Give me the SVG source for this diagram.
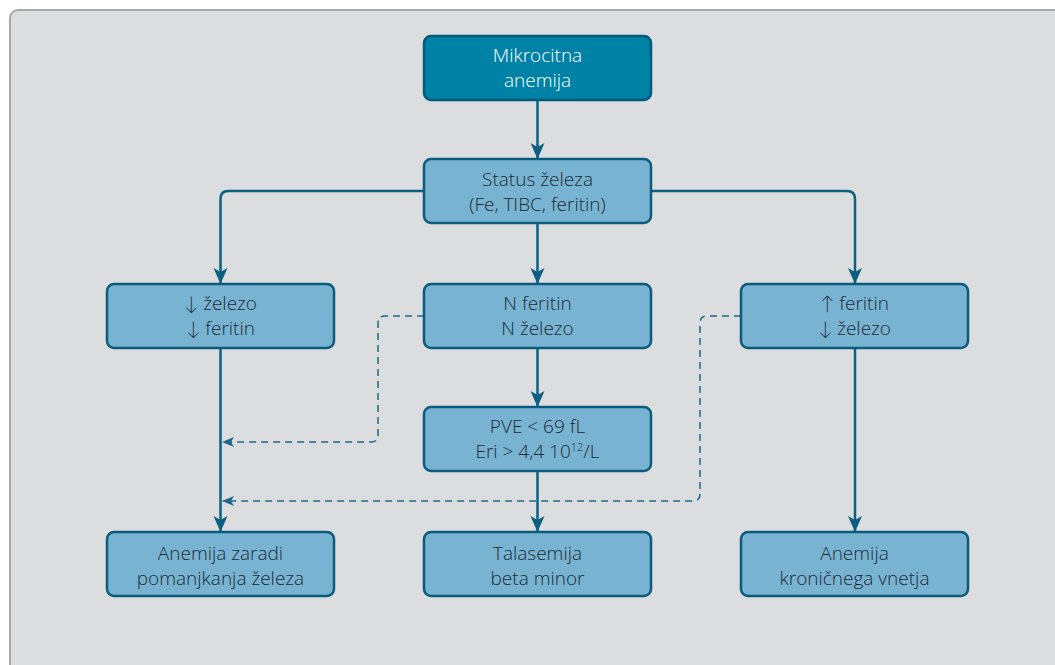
<svg xmlns="http://www.w3.org/2000/svg" width="1055" height="665" viewBox="0 0 1055 665">
<defs>
<style>
.box{fill:#78b4d1;stroke:#0b5b7c;stroke-width:2.5}
.top{fill:#0082a6;stroke:#005a7a;stroke-width:2.5}
.t{font-family:"Open Sans","Noto Sans","Liberation Sans",sans-serif;font-size:19px;font-weight:300;fill:#1c2a36;text-anchor:middle}
.ar{font-family:Lato,"DejaVu Sans",sans-serif;font-weight:300}
.tw{fill:#ffffff}
.c{fill:none;stroke:#0b5f80;stroke-width:2.5}
.d{fill:none;stroke:#1d6888;stroke-width:1.5;stroke-dasharray:7 5}
</style>
<marker id="a" viewBox="0 0 16 16" refX="15" refY="8" markerWidth="16" markerHeight="16" markerUnits="userSpaceOnUse" orient="auto">
<path d="M0,1 L16,8 L0,15 L4,8 Z" fill="#0b5f80"/>
</marker>
<marker id="ad" viewBox="0 0 12 12" refX="11" refY="6" markerWidth="12" markerHeight="12" markerUnits="userSpaceOnUse" orient="auto">
<path d="M0,1 L12,6 L0,11 L3,6 Z" fill="#1d6888"/>
</marker>
</defs>
<rect x="0" y="0" width="1055" height="665" fill="#ffffff"/>
<rect x="10" y="10" width="1070" height="680" rx="8" fill="#dcdddf" stroke="#a8a8a8" stroke-width="2"/>
<g id="connectors">
<path class="c" d="M537.5,100 V158" marker-end="url(#a)"/>
<path class="c" d="M424,191 H228 Q220.5,191 220.5,199 V283" marker-end="url(#a)"/>
<path class="c" d="M651,191 H847 Q855,191 855,199 V283" marker-end="url(#a)"/>
<path class="c" d="M537.5,223 V283" marker-end="url(#a)"/>
<path class="c" d="M537.5,348 V406" marker-end="url(#a)"/>
<path class="c" d="M537.5,471 V531" marker-end="url(#a)"/>
<path class="c" d="M220.5,348 V531" marker-end="url(#a)"/>
<path class="c" d="M855,348 V531" marker-end="url(#a)"/>
<path class="d" d="M424,316 H385 Q378,316 378,323 V435 Q378,442 371,442 H223" marker-end="url(#ad)"/>
<path class="d" d="M741,316 H707 Q700,316 700,323 V494 Q700,501 693,501 H223" marker-end="url(#ad)"/>
</g>
<g id="n1"><rect class="top" x="424" y="36" width="227" height="64" rx="7"/>
<text class="t tw" x="537.5" y="62">Mikrocitna</text><text class="t tw" x="537.5" y="87">anemija</text></g>
<g id="n2"><rect class="box" x="424" y="159" width="227" height="64" rx="7"/>
<text class="t" x="537.5" y="186">Status železa</text><text class="t" x="537.5" y="211">(Fe, TIBC, feritin)</text></g>
<g id="n3"><rect class="box" x="107" y="284" width="227" height="64" rx="7"/>
<text class="t" x="220.5" y="310"><tspan class="ar">↓</tspan> železo</text><text class="t" x="220.5" y="335"><tspan class="ar">↓</tspan> feritin</text></g>
<g id="n4"><rect class="box" x="424" y="284" width="227" height="64" rx="7"/>
<text class="t" x="537.5" y="310">N feritin</text><text class="t" x="537.5" y="335">N železo</text></g>
<g id="n5"><rect class="box" x="741" y="284" width="227" height="64" rx="7"/>
<text class="t" x="854.5" y="310"><tspan class="ar">↑</tspan> feritin</text><text class="t" x="854.5" y="335"><tspan class="ar">↓</tspan> železo</text></g>
<g id="n6"><rect class="box" x="424" y="407" width="227" height="64" rx="7"/>
<text class="t" x="537.5" y="433">PVE &lt; 69 fL</text><text class="t" x="537.5" y="458">Eri &gt; 4,4 10<tspan font-size="11" dy="-7">12</tspan><tspan dy="7">/L</tspan></text></g>
<g id="n7"><rect class="box" x="107" y="532" width="227" height="64" rx="7"/>
<text class="t" x="220.5" y="560">Anemija zaradi</text><text class="t" x="220.5" y="585">pomanjkanja železa</text></g>
<g id="n8"><rect class="box" x="424" y="532" width="227" height="64" rx="7"/>
<text class="t" x="537.5" y="560">Talasemija</text><text class="t" x="537.5" y="585">beta minor</text></g>
<g id="n9"><rect class="box" x="741" y="532" width="227" height="64" rx="7"/>
<text class="t" x="854.5" y="560">Anemija</text><text class="t" x="854.5" y="585">kroničnega vnetja</text></g>
</svg>
